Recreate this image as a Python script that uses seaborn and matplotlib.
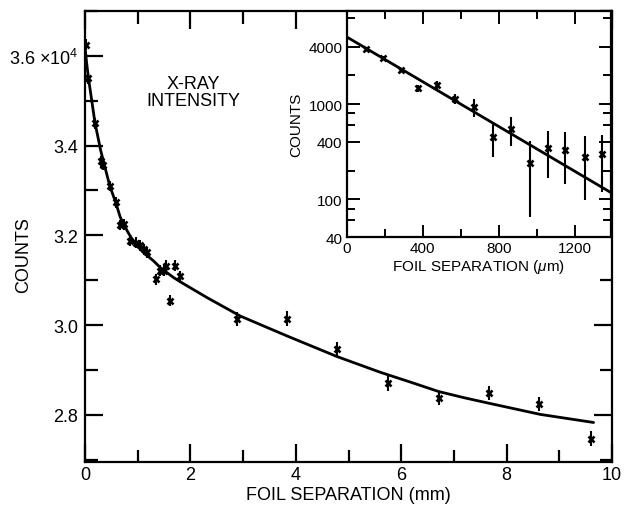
import matplotlib
matplotlib.use("Agg")
import matplotlib.pyplot as plt
import matplotlib.ticker as mticker
import seaborn as sns
import pandas as pd

# main panel: foil separation (mm) vs counts (units of 1e4)
mm_x = [0.01, 0.066, 0.19, 0.30, 0.34, 0.47, 0.58, 0.66, 0.74, 0.86, 0.96, 1.05, 1.11, 1.18,
        1.355, 1.42, 1.49, 1.54, 1.62, 1.716, 1.81, 2.885, 3.83, 4.79, 5.74, 6.71, 7.67, 8.62, 9.61]
mm_y = [3.625, 3.550, 3.450, 3.365, 3.357, 3.310, 3.274, 3.223, 3.225, 3.188, 3.184, 3.178, 3.169, 3.162,
        3.102, 3.121, 3.121, 3.132, 3.054, 3.132, 3.109, 3.013, 3.0145, 2.946, 2.870, 2.838, 2.848, 2.8235, 2.747]
mm_err = [0.012] * 21 + [0.016] * 8

# fitted curve
fit_x = [0.0, 0.03, 0.066, 0.19, 0.30, 0.47, 0.58, 0.67, 0.80, 0.90, 1.10, 1.30, 1.43, 1.68, 1.80,
         2.32, 2.95, 3.83, 4.78, 5.60, 6.20, 6.71, 7.20, 7.66, 8.64, 9.65]
fit_y = [3.620, 3.585, 3.550, 3.450, 3.388, 3.310, 3.274, 3.240, 3.210, 3.190, 3.163, 3.143, 3.128, 3.106, 3.097,
         3.061, 3.020, 2.976, 2.930, 2.895, 2.872, 2.852, 2.838, 2.826, 2.801, 2.783]

# inset: foil separation (um) vs counts, log scale
um_x = [100, 191, 284, 375, 474, 572, 668, 770, 863, 963, 1058, 1151, 1253, 1346]
um_y = [3795, 3047, 2278, 1463, 1585, 1129, 923, 453, 545, 238, 344, 328, 281, 298]
um_err = [120, 120, 130, 140, 150, 137, 200, 176, 183, 173, 178, 185, 182, 179]
um_fit_x = [0, 1390]
um_fit_y = [5070, 118]

sns.set_theme(style="ticks")
plt.rcParams["font.family"] = ["Liberation Sans", "DejaVu Sans"]
plt.rcParams["mathtext.fontset"] = "custom"
plt.rcParams["mathtext.rm"] = "Liberation Sans"
plt.rcParams["mathtext.it"] = "Liberation Sans:italic"
plt.rcParams["axes.linewidth"] = 1.6
for k in ["text.color", "axes.labelcolor", "xtick.color", "ytick.color", "axes.edgecolor"]:
    plt.rcParams[k] = "black"

fig = plt.figure(figsize=(6.27, 5.10), dpi=100)
ax = fig.add_axes([0.1356, 0.0922, 0.8405, 0.8843])

fit_df = pd.DataFrame({"x": fit_x, "y": fit_y})
sns.lineplot(data=fit_df, x="x", y="y", ax=ax, color="black", lw=2.0, sort=False)
ax.errorbar(mm_x, mm_y, yerr=mm_err, fmt="x", color="black", ms=5, mew=1.9, elinewidth=1.5, capsize=0)

ax.set_xlim(0, 10)
ax.set_ylim(2.695, 3.70)
ax.xaxis.set_major_locator(mticker.MultipleLocator(2))
ax.xaxis.set_minor_locator(mticker.MultipleLocator(1))
ax.set_yticks([2.8, 3.0, 3.2, 3.4, 3.6])
ax.set_yticklabels(["2.8", "3.0", "3.2", "3.4", "3.6 ×10$^{4}$"])
ax.yaxis.set_minor_locator(mticker.MultipleLocator(0.1))
ax.tick_params(which="both", direction="in", top=True, right=True, labelsize=13, width=1.6)
ax.tick_params(axis="x", pad=3)
ax.tick_params(axis="y", pad=5)
ax.tick_params(which="major", length=13)
ax.tick_params(which="minor", length=9)
ax.set_xlabel("FOIL SEPARATION (mm)", fontsize=13, labelpad=2)
ax.set_ylabel("COUNTS", fontsize=13)
ax.yaxis.set_label_coords(-0.10, 0.46)
ax.text(0.205, 0.82, "X-RAY\nINTENSITY", transform=ax.transAxes, ha="center", va="center",
        fontsize=13, linespacing=1.0)

# inset
ins = fig.add_axes([0.553, 0.533, 0.421, 0.4435])
ins.set_facecolor("white")
ins_fit = pd.DataFrame({"x": um_fit_x, "y": um_fit_y})
sns.lineplot(data=ins_fit, x="x", y="y", ax=ins, color="black", lw=2.0)
ins.errorbar(um_x, um_y, yerr=um_err, fmt="x", color="black", ms=5, mew=1.9, elinewidth=1.5, capsize=0)
ins.set_yscale("log")
ins.set_xlim(0, 1390)
ins.set_ylim(40, 9500)
ins.xaxis.set_major_locator(mticker.MultipleLocator(400))
ins.xaxis.set_minor_locator(mticker.MultipleLocator(200))
ins.yaxis.set_major_locator(mticker.FixedLocator([40, 100, 400, 1000, 4000]))
ins.yaxis.set_major_formatter(mticker.FixedFormatter(["40", "100", "400", "1000", "4000"]))
ins.yaxis.set_minor_locator(mticker.FixedLocator([60, 80, 200, 600, 800, 2000, 8000]))
ins.yaxis.set_minor_formatter(mticker.NullFormatter())
ins.tick_params(which="both", direction="in", top=True, right=True, labelsize=11, width=1.4, pad=3)
ins.tick_params(which="major", length=9)
ins.tick_params(which="minor", length=6)
ins.set_xlabel("FOIL SEPARATION ($\\mu$m)", fontsize=11, labelpad=1)
ins.set_ylabel("COUNTS", fontsize=11, labelpad=4)

fig.savefig("out.png", dpi=100)
